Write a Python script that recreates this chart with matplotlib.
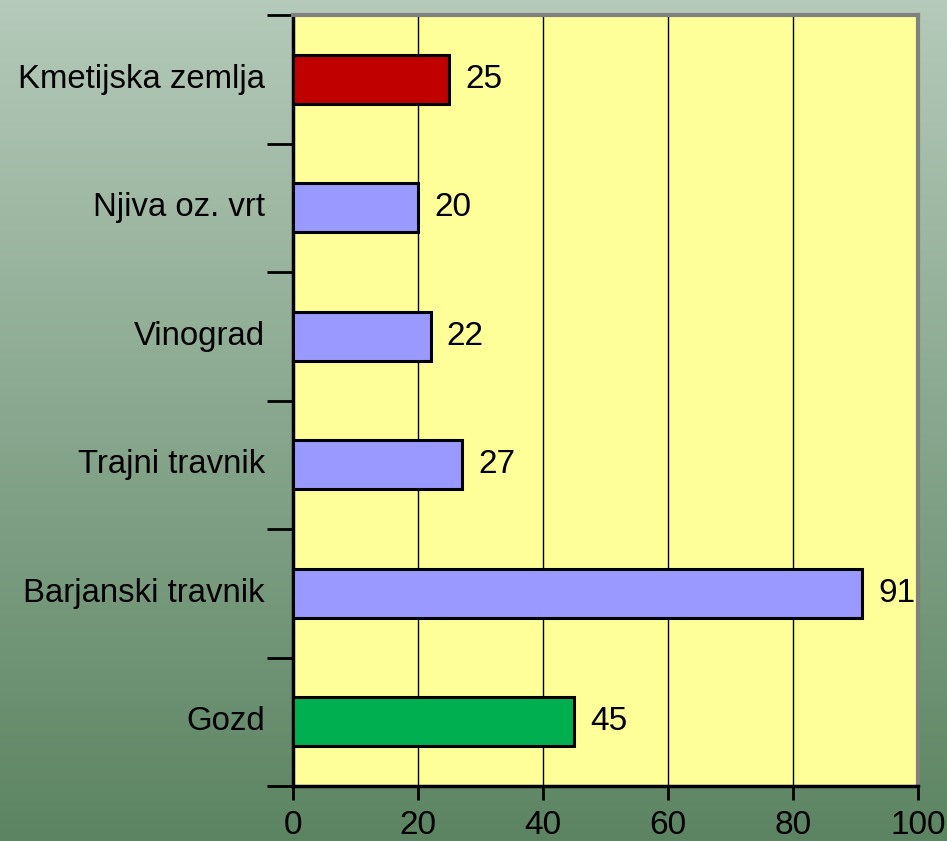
import numpy as np
import matplotlib.pyplot as plt

categories = ['Kmetijska zemlja', 'Njiva oz. vrt', 'Vinograd', 'Trajni travnik', 'Barjanski travnik', 'Gozd']
values = [25, 20, 22, 27, 91, 45]
colors = ['#C00000', '#9999FF', '#9999FF', '#9999FF', '#9999FF', '#00B050']
xticks = [0, 20, 40, 60, 80, 100]

plt.rcParams['font.family'] = ['Liberation Sans', 'DejaVu Sans']

fig = plt.figure(figsize=(9.47, 8.41), dpi=100)

# background gradient
bg = fig.add_axes([0, 0, 1, 1], zorder=-10)
top = np.array([181, 202, 186]) / 255
bot = np.array([92, 132, 98]) / 255
t = np.linspace(0, 1, 256)[:, None]
grad = top * (1 - t)[:, :, None] + bot * t[:, :, None]
grad = np.repeat(grad, 4, axis=1)
bg.imshow(grad, aspect='auto', extent=[0, 1, 0, 1])
bg.axis('off')

# plot area: x 293..918, y 15..786 px
W, H = 947, 841
ax = fig.add_axes([293 / W, (H - 786) / H, (918 - 293) / W, (786 - 15) / H])
ax.set_facecolor('#FFFF99')

n = len(categories)
ypos = np.arange(n)[::-1]
ax.barh(ypos, values, height=0.38, color=colors, edgecolor='black', linewidth=2.2, zorder=3)
for y, v in zip(ypos, values):
    ax.text(v + 2.6, y, str(v), va='center', ha='left', fontsize=24, zorder=4)

ax.set_xlim(0, 100)
ax.set_ylim(-0.5, n - 0.5)
ax.set_xticks(xticks)
ax.set_xticklabels([str(x) for x in xticks], fontsize=24)
for x in [20, 40, 60, 80]:
    ax.axvline(x, color='black', linewidth=1, zorder=1)

# category labels placed at centers, ticks at boundaries
ax.set_yticks(np.arange(-0.5, n, 1.0))
ax.set_yticklabels([])
ax.tick_params(axis='y', direction='out', length=19, width=2, color='black')
ax.tick_params(axis='x', direction='out', length=10, width=2, color='black', pad=7)
for y, c in zip(ypos, categories):
    ax.text(-0.045, y, c, transform=ax.get_yaxis_transform(), ha='right', va='center', fontsize=23.7)

for side in ['top', 'right']:
    ax.spines[side].set_color('#808080')
    ax.spines[side].set_linewidth(3)
ax.spines['left'].set_color('black')
ax.spines['left'].set_linewidth(2.5)
ax.spines['bottom'].set_color('black')
ax.spines['bottom'].set_linewidth(2.5)

fig.savefig('out.png', dpi=100)
